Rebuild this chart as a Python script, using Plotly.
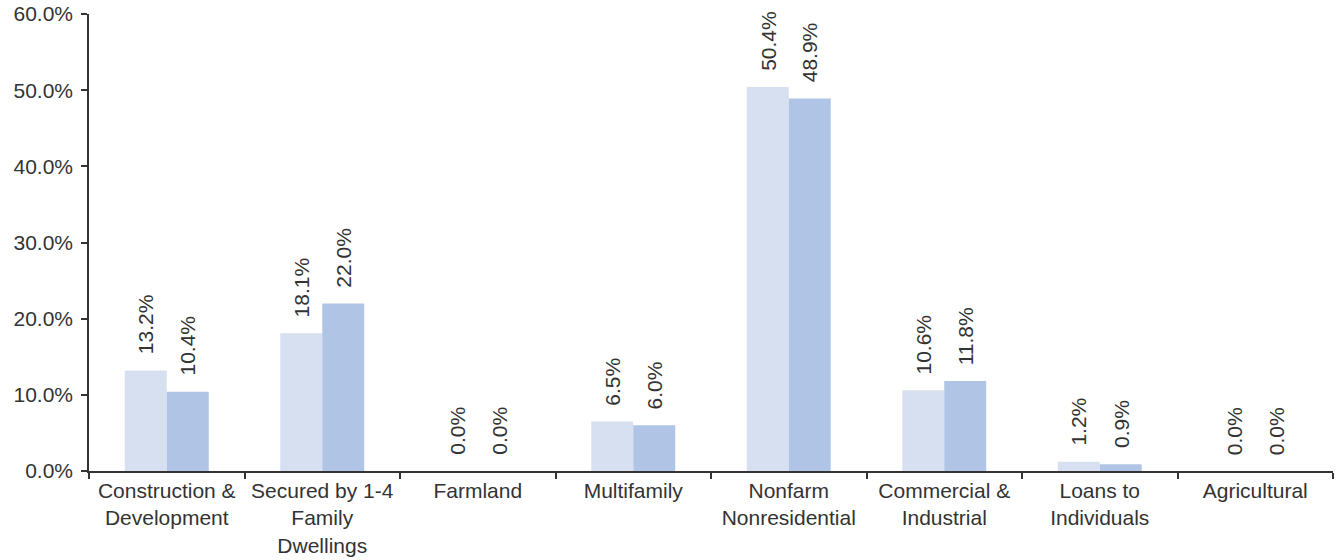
import plotly.graph_objects as go

categories = ["Construction &<br>Development", "Secured by 1-4<br>Family<br>Dwellings", "Farmland",
              "Multifamily", "Nonfarm<br>Nonresidential", "Commercial &<br>Industrial",
              "Loans to<br>Individuals", "Agricultural"]
series1 = [13.2, 18.1, 0.0, 6.5, 50.4, 10.6, 1.2, 0.0]
series2 = [10.4, 22.0, 0.0, 6.0, 48.9, 11.8, 0.9, 0.0]
y_ticks = [0, 10, 20, 30, 40, 50, 60]

c1 = "#D7E0F1"
c2 = "#B0C4E6"
txt = "#333333"
FONT = "Liberation Sans, Arial, sans-serif"

fig = go.Figure()
fig.add_trace(go.Bar(x=categories, y=series1, marker=dict(color=c1, line=dict(width=0)), name="Series 1"))
fig.add_trace(go.Bar(x=categories, y=series2, marker=dict(color=c2, line=dict(width=0)), name="Series 2"))

annotations = []
for vals, shift in ((series1, -21), (series2, 21)):
    for c, v in zip(categories, vals):
        annotations.append(dict(x=c, y=v, xref="x", yref="y", text=f"{v:.1f}%", showarrow=False,
                                textangle=-90, xshift=shift, yshift=14, yanchor="bottom",
                                font=dict(family=FONT, size=21, color=txt)))

fig.update_layout(
    width=1336, height=560,
    margin=dict(l=89, r=3, t=14, b=89),
    paper_bgcolor="white", plot_bgcolor="white",
    barmode="group", bargap=0.46, bargroupgap=0,
    showlegend=False,
    font=dict(family=FONT, size=21, color=txt),
    annotations=annotations,
)
fig.update_xaxes(showline=True, linecolor="#333333", linewidth=1.5, ticks="outside", ticklen=6,
                 tickcolor="#333333", tickwidth=1.5, tickson="boundaries", showgrid=False,
                 tickfont=dict(family=FONT, size=21, color=txt), tickangle=0)
fig.update_yaxes(range=[0, 60], tickvals=y_ticks, ticktext=[f"{t:.1f}%" for t in y_ticks],
                 showline=True, linecolor="#333333", linewidth=1.5, ticks="outside", ticklen=6,
                 tickcolor="#333333", tickwidth=1.5, showgrid=False, zeroline=False,
                 ticklabelstandoff=4,
                 tickfont=dict(family=FONT, size=21, color=txt))

fig.write_html("out.html")
